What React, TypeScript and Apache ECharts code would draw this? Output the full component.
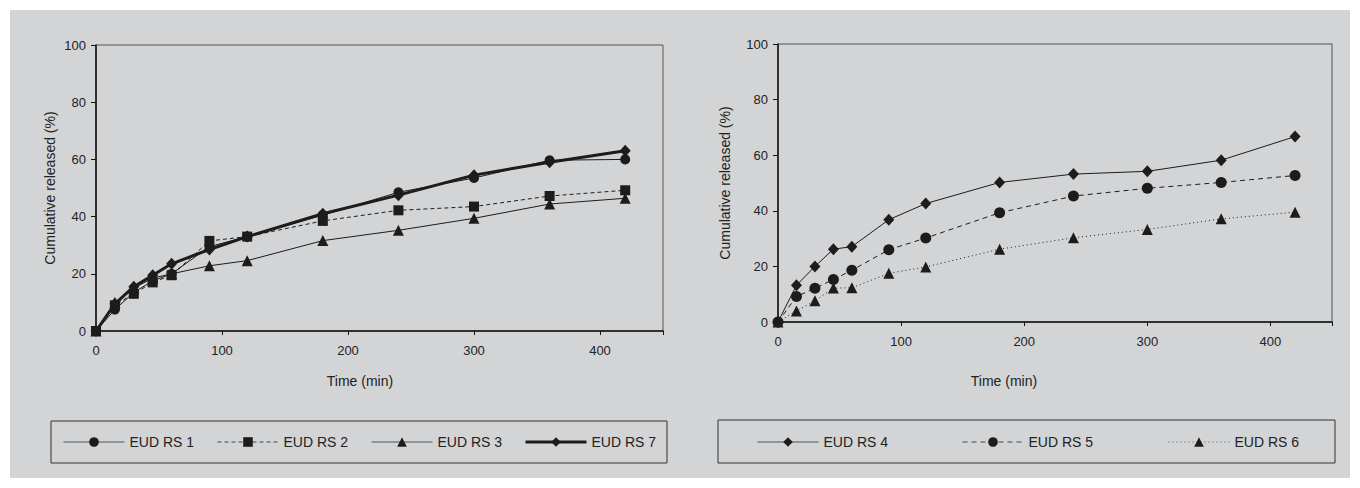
import React, { useEffect, useRef } from "react";
import * as echarts from "echarts";

const times = [0, 15, 30, 45, 60, 90, 120, 180, 240, 300, 360, 420];
const xTicks = [0, 100, 200, 300, 400];
const yTicks = [0, 20, 40, 60, 80, 100];

const rs1 = [0, 7.5, 13.5, 17.5, 20, 29.5, 33, 40.5, 48.5, 53.5, 59.7, 60];
const rs2 = [0, 9, 13, 17, 19.5, 31.5, 33, 38.5, 42.2, 43.5, 47.2, 49.2];
const rs3 = [0, 10, 15, 18.5, 20, 22.8, 24.6, 31.6, 35.2, 39.4, 44.4, 46.4];
const rs7 = [0, 9.5, 15.5, 19.5, 23.5, 28.5, 33, 41, 47.5, 54.5, 59, 63];

const rs4 = [0, 13.2, 20, 26.2, 27.1, 36.8, 42.6, 50.2, 53.2, 54.2, 58.2, 66.7];
const rs5 = [0, 9.2, 12.1, 15.3, 18.6, 26, 30.2, 39.3, 45.3, 48.1, 50.2, 52.7];
const rs6 = [0, 4, 7.6, 12.2, 12.3, 17.5, 19.8, 26.2, 30.3, 33.3, 37.1, 39.5];

const FONT = "'Liberation Sans', Arial, Helvetica, sans-serif";
const INK = "#1c1c1c";
const BG = "#d3d4d6";

const pairs = (vals: number[]) => times.map((t, i) => [t, vals[i]]);

function App() {
  const ref = useRef<HTMLDivElement>(null);
  useEffect(() => {
    if (!ref.current) return;
    const chart = echarts.init(ref.current, undefined, { renderer: "svg" });

    const xAxisBase = (gridIndex: number) => ({
      type: "value" as const,
      gridIndex,
      min: 0,
      max: 450,
      interval: 100,
      axisLine: { show: true, lineStyle: { color: "#111", width: 1.5 } },
      axisTick: { show: true, length: 4, lineStyle: { color: "#111" } },
      splitLine: { show: false },
      axisLabel: {
        color: "#222",
        fontSize: 13,
        fontFamily: FONT,
        margin: 13,
        formatter: (v: number) => (xTicks.includes(v) ? String(v) : ""),
      },
    });

    const yAxisBase = (gridIndex: number, nameGap: number) => ({
      type: "value" as const,
      gridIndex,
      min: 0,
      max: 100,
      interval: 20,
      name: "Cumulative released (%)",
      nameLocation: "middle" as const,
      nameGap,
      nameTextStyle: { color: "#222", fontSize: 14, fontFamily: FONT },
      axisLine: { show: true, lineStyle: { color: "#111", width: 1.5 } },
      axisTick: { show: true, length: 5, lineStyle: { color: "#111" } },
      splitLine: { show: false },
      axisLabel: {
        color: "#222",
        fontSize: 13,
        fontFamily: FONT,
        margin: 10,
        formatter: (v: number) => (yTicks.includes(v) ? String(v) : ""),
      },
    });

    const line = (
      name: string,
      vals: number[],
      idx: number,
      symbol: string,
      size: any,
      width: number,
      type: any
    ) => ({
      type: "line" as const,
      name,
      xAxisIndex: idx,
      yAxisIndex: idx,
      data: pairs(vals),
      symbol,
      symbolSize: size,
      showAllSymbol: true,
      lineStyle: { color: INK, width, type },
      itemStyle: { color: INK, borderWidth: 0 },
      emphasis: { disabled: true },
      clip: false,
    });

    const legendItem = (name: string, left: number, lw: number, color: string) => ({
      data: [name],
      left,
      top: 435,
      padding: 0,
      itemWidth: 61,
      itemHeight: 12,
      itemGap: 0,
      selectedMode: false,
      lineStyle: { width: lw, color },
      textStyle: { color: "#222", fontSize: 14, fontFamily: FONT },
    });

    chart.setOption({
      animation: false,
      backgroundColor: "#ffffff",
      grid: [
        { left: 96, top: 45, width: 567, height: 286, show: true, borderColor: "#555", borderWidth: 1, backgroundColor: "transparent" },
        { left: 778, top: 44, width: 554, height: 278, show: true, borderColor: "#555", borderWidth: 1, backgroundColor: "transparent" },
      ],
      xAxis: [xAxisBase(0), xAxisBase(1)],
      yAxis: [yAxisBase(0, 39), yAxisBase(1, 46)],
      legend: [
        legendItem("EUD RS 1", 63, 1, "#555"),
        legendItem("EUD RS 2", 217, 1, "#444"),
        legendItem("EUD RS 3", 371, 1, "#555"),
        legendItem("EUD RS 7", 524, 3, "#1c1c1c"),
        legendItem("EUD RS 4", 757, 1, "#555"),
        legendItem("EUD RS 5", 962, 1, "#444"),
        legendItem("EUD RS 6", 1168, 1, "#555"),
      ],
      graphic: [
        { type: "rect", z: -100, silent: true, shape: { x: 10, y: 10, width: 1340, height: 468 }, style: { fill: BG } },
        { type: "rect", z: 1, silent: true, shape: { x: 51, y: 421, width: 616, height: 42 }, style: { fill: "none", stroke: "#333", lineWidth: 1 } },
        { type: "rect", z: 1, silent: true, shape: { x: 718, y: 420, width: 617, height: 43 }, style: { fill: "none", stroke: "#333", lineWidth: 1 } },
        { type: "text", silent: true, x: 360, y: 381, style: { text: "Time (min)", fill: "#222", font: `14px ${FONT}`, align: "center", verticalAlign: "middle" } },
        { type: "text", silent: true, x: 1004, y: 381, style: { text: "Time (min)", fill: "#222", font: `14px ${FONT}`, align: "center", verticalAlign: "middle" } },
      ],
      series: [
        line("EUD RS 1", rs1, 0, "circle", 10, 1, "solid"),
        line("EUD RS 2", rs2, 0, "rect", 10, 1, [4, 3]),
        line("EUD RS 3", rs3, 0, "triangle", 11, 1, "solid"),
        line("EUD RS 7", rs7, 0, "diamond", [11, 12], 3, "solid"),
        line("EUD RS 4", rs4, 1, "diamond", [11, 12], 1, "solid"),
        line("EUD RS 5", rs5, 1, "circle", 11, 1, [5, 4]),
        line("EUD RS 6", rs6, 1, "triangle", 11, 1, [1, 3]),
      ],
    });
    return () => chart.dispose();
  }, []);
  return (
    <div
      ref={ref}
      style={{ position: "fixed", left: 0, top: 0, width: 1360, height: 488 }}
    />
  );
}

export default App;
